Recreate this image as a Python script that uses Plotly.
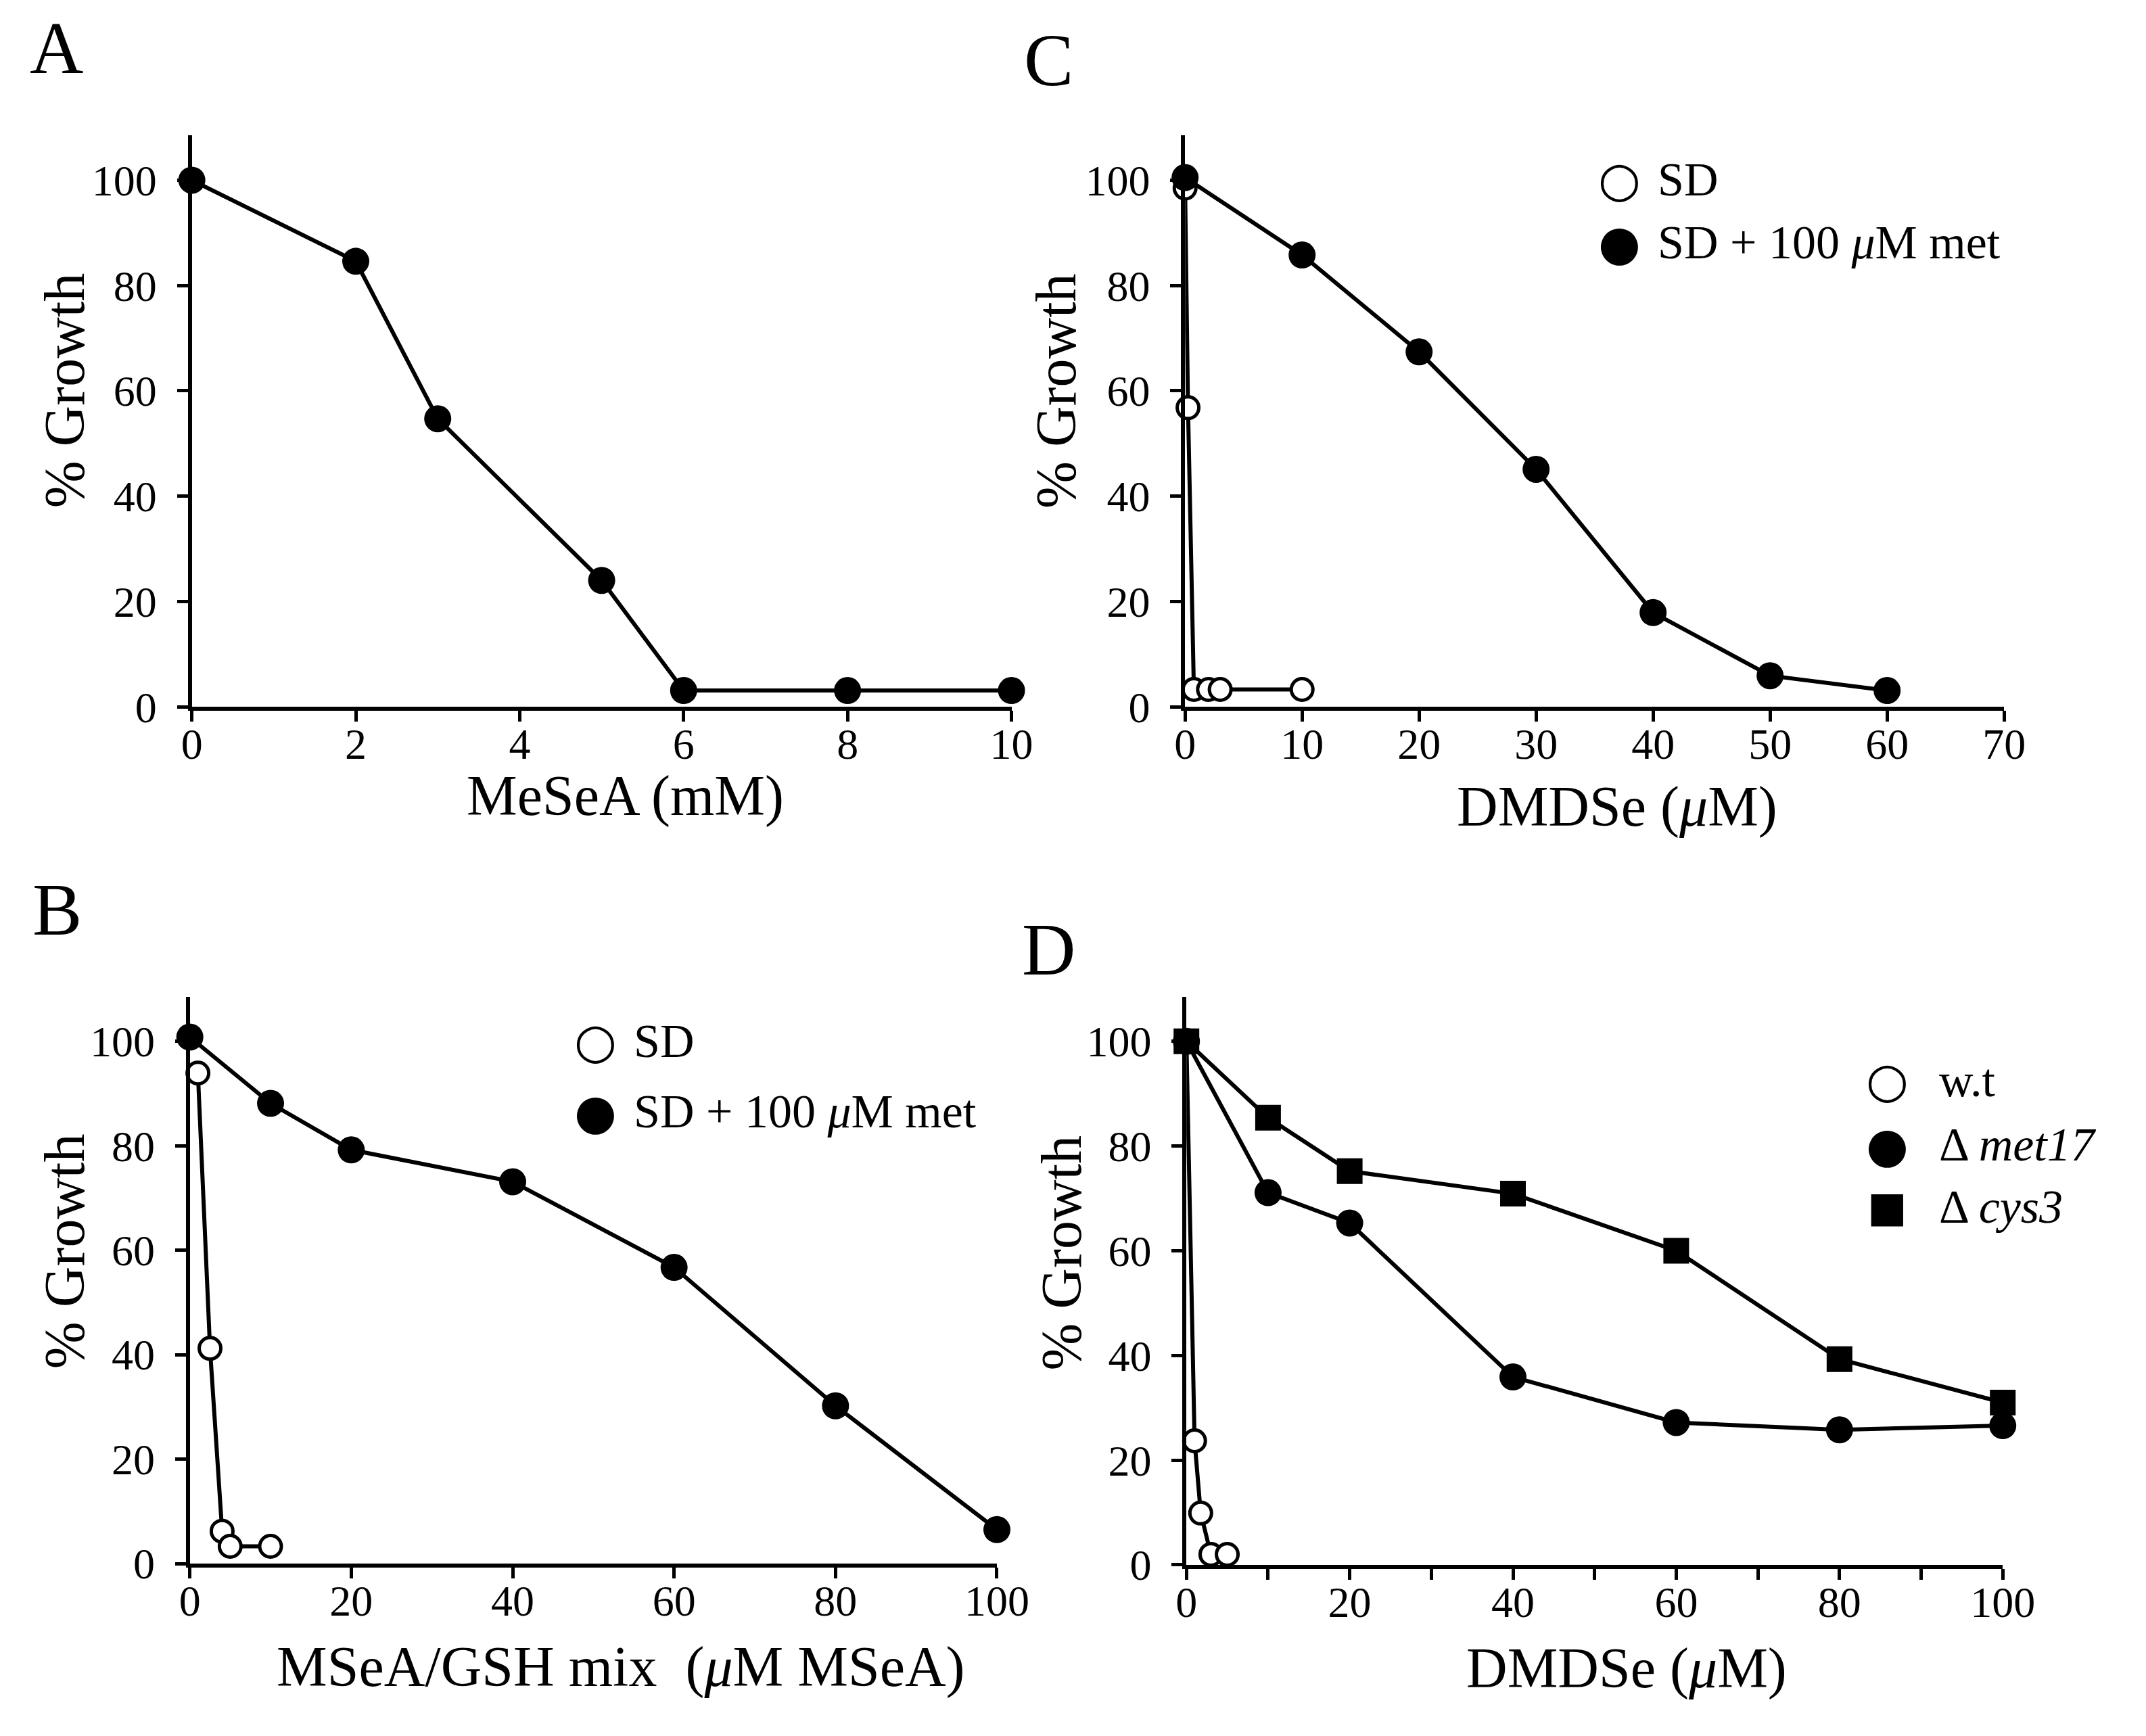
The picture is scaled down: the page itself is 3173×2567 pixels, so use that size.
import plotly.graph_objects as go

# ---- data ----
# A: MeSeA (mM)
a_dose = [0, 2, 3, 5, 6, 8, 10]
a_growth = [100, 84.6, 54.7, 24.0, 3.1, 3.1, 3.1]

# C: DMDSe (uM), SD vs SD + 100 uM met
c_sd_dose = [0, 0.25, 0.75, 2, 3, 10]
c_sd_growth = [98.5, 56.8, 3.3, 3.3, 3.3, 3.3]
c_met_dose = [0, 10, 20, 30, 40, 50, 60]
c_met_growth = [100.5, 85.8, 67.4, 45.1, 17.9, 5.9, 3.1]

# B: MSeA/GSH mix (uM MSeA)
b_sd_dose = [1, 2.5, 4, 5, 10]
b_sd_growth = [93.9, 41.2, 6.2, 3.3, 3.3]
b_met_dose = [0, 10, 20, 40, 60, 80, 100]
b_met_growth = [100.8, 88.1, 79.2, 73.1, 56.7, 30.2, 6.5]

# D: DMDSe (uM), strains
d_wt_dose = [0, 1, 1.75, 3, 5]
d_wt_growth = [100, 23.7, 9.9, 2.0, 2.0]
d_met17_dose = [0, 10, 20, 40, 60, 80, 100]
d_met17_growth = [100, 71.1, 65.3, 35.9, 27.2, 25.8, 26.6]
d_cys3_dose = [0, 10, 20, 40, 60, 80, 100]
d_cys3_growth = [100, 85.4, 75.2, 70.9, 60.0, 39.3, 31.0]

# the page body keeps its default 8px margin, so the figure is made
# that much smaller and positions below are given in window pixels
PAGE_MARGIN = 8
W, H = 3173 - 2 * PAGE_MARGIN, 2567 - 2 * PAGE_MARGIN
SERIF = "Liberation Serif"


def px(x):
    return (x - PAGE_MARGIN) / W


def py(y):
    return 1 - (y - PAGE_MARGIN) / H


def series(x, y, xa, ya, kind):
    if kind == "open":
        marker = dict(symbol="circle", size=32, color="white",
                      line=dict(color="black", width=5))
    elif kind == "square":
        marker = dict(symbol="square", size=38, color="black",
                      line=dict(width=0))
    else:
        marker = dict(symbol="circle", size=40, color="black",
                      line=dict(width=0))
    return go.Scatter(x=x, y=y, xaxis=xa, yaxis=ya, mode="lines+markers",
                      line=dict(color="black", width=6), marker=marker,
                      cliponaxis=False, showlegend=False)


fig = go.Figure()
fig.add_trace(series(a_dose, a_growth, "x", "y", "filled"))
fig.add_trace(series(c_sd_dose, c_sd_growth, "x2", "y2", "open"))
fig.add_trace(series(c_met_dose, c_met_growth, "x2", "y2", "filled"))
fig.add_trace(series(b_sd_dose, b_sd_growth, "x3", "y3", "open"))
fig.add_trace(series(b_met_dose, b_met_growth, "x3", "y3", "filled"))
fig.add_trace(series(d_wt_dose, d_wt_growth, "x4", "y4", "open"))
fig.add_trace(series(d_met17_dose, d_met17_growth, "x4", "y4", "filled"))
fig.add_trace(series(d_cys3_dose, d_cys3_growth, "x4", "y4", "square"))

axis_style = dict(showline=True, linecolor="black", linewidth=6,
                  ticks="outside", ticklen=16, tickwidth=5, tickcolor="black",
                  showgrid=False, zeroline=False,
                  tickfont=dict(family=SERIF, size=64, color="black"))

y_common = dict(axis_style, range=[0, 108.5], tickvals=[0, 20, 40, 60, 80, 100],
                ticklabelstandoff=17)
x_common = dict(axis_style, ticklabelstandoff=-22)

d_ticks = list(range(0, 101, 10))
fig.update_layout(
    width=W, height=H, autosize=False,
    margin=dict(l=0, r=0, t=0, b=0),
    paper_bgcolor="white", plot_bgcolor="white",
    xaxis=dict(x_common, domain=[px(273), px(1510)], anchor="y",
               range=[0, 10], dtick=2),
    yaxis=dict(y_common, domain=[py(1060), py(203)], anchor="x"),
    xaxis2=dict(x_common, domain=[px(1772), px(3008)], anchor="y2",
                range=[0, 70], dtick=10),
    yaxis2=dict(y_common, domain=[py(1060), py(203)], anchor="x2"),
    xaxis3=dict(x_common, domain=[px(270), px(1488)], anchor="y3",
                range=[0, 100], dtick=20),
    yaxis3=dict(y_common, domain=[py(2345), py(1495)], anchor="x3"),
    xaxis4=dict(x_common, domain=[px(1774), px(3006)], anchor="y4",
                range=[0, 100], tickvals=d_ticks,
                ticktext=[str(t) if t % 20 == 0 else "" for t in d_ticks]),
    yaxis4=dict(y_common, domain=[py(2347), py(1495)], anchor="x4"),
)

notes = []


def note(text, x, y, size, xanchor="center", angle=0, family=SERIF):
    notes.append(dict(text=text, x=px(x), y=py(y), xref="paper", yref="paper",
                      xanchor=xanchor, yanchor="middle", showarrow=False,
                      textangle=angle,
                      font=dict(family=family, size=size, color="black")))


# panel letters
note("A", 69, 72, 110)
note("C", 1566, 90, 110)
note("B", 70, 1364, 110)
note("D", 1566, 1424, 110)

# axis titles
note("MeSeA (mM)", 927, 1194, 84)
note("DMDSe (<i>μ</i>M)", 2424, 1210, 84)
note("MSeA/GSH mix&nbsp;&nbsp;(<i>μ</i>M MSeA)", 921, 2500, 84)
note("DMDSe (<i>μ</i>M)", 2438, 2502, 84)
for gx, gy in [(81, 586), (1578, 586), (81, 1877), (1586, 1879)]:
    note("% Growth", gx, gy, 84, angle=-90)

# legends
GLYPH = "DejaVu Sans"
LEG = 70
note("○", 2428, 269, 72, family=GLYPH)
note("●", 2428, 364, 72, family=GLYPH)
note("SD", 2483, 269, LEG, xanchor="left")
note("SD + 100 <i>μ</i>M met", 2483, 364, LEG, xanchor="left")

note("○", 882, 1561, 72, family=GLYPH)
note("●", 882, 1667, 72, family=GLYPH)
note("SD", 938, 1561, LEG, xanchor="left")
note("SD + 100 <i>μ</i>M met", 938, 1667, LEG, xanchor="left")

note("○", 2832, 1620, 72, family=GLYPH)
note("●", 2832, 1717, 72, family=GLYPH)
note("■", 2832, 1810, 62, family=GLYPH)
note("w.t", 2908, 1620, LEG, xanchor="left")
note("Δ <i>met17</i>", 2908, 1717, LEG, xanchor="left")
note("Δ <i>cys3</i>", 2908, 1810, LEG, xanchor="left")

fig.update_layout(annotations=notes)

fig.write_html("out.html")
